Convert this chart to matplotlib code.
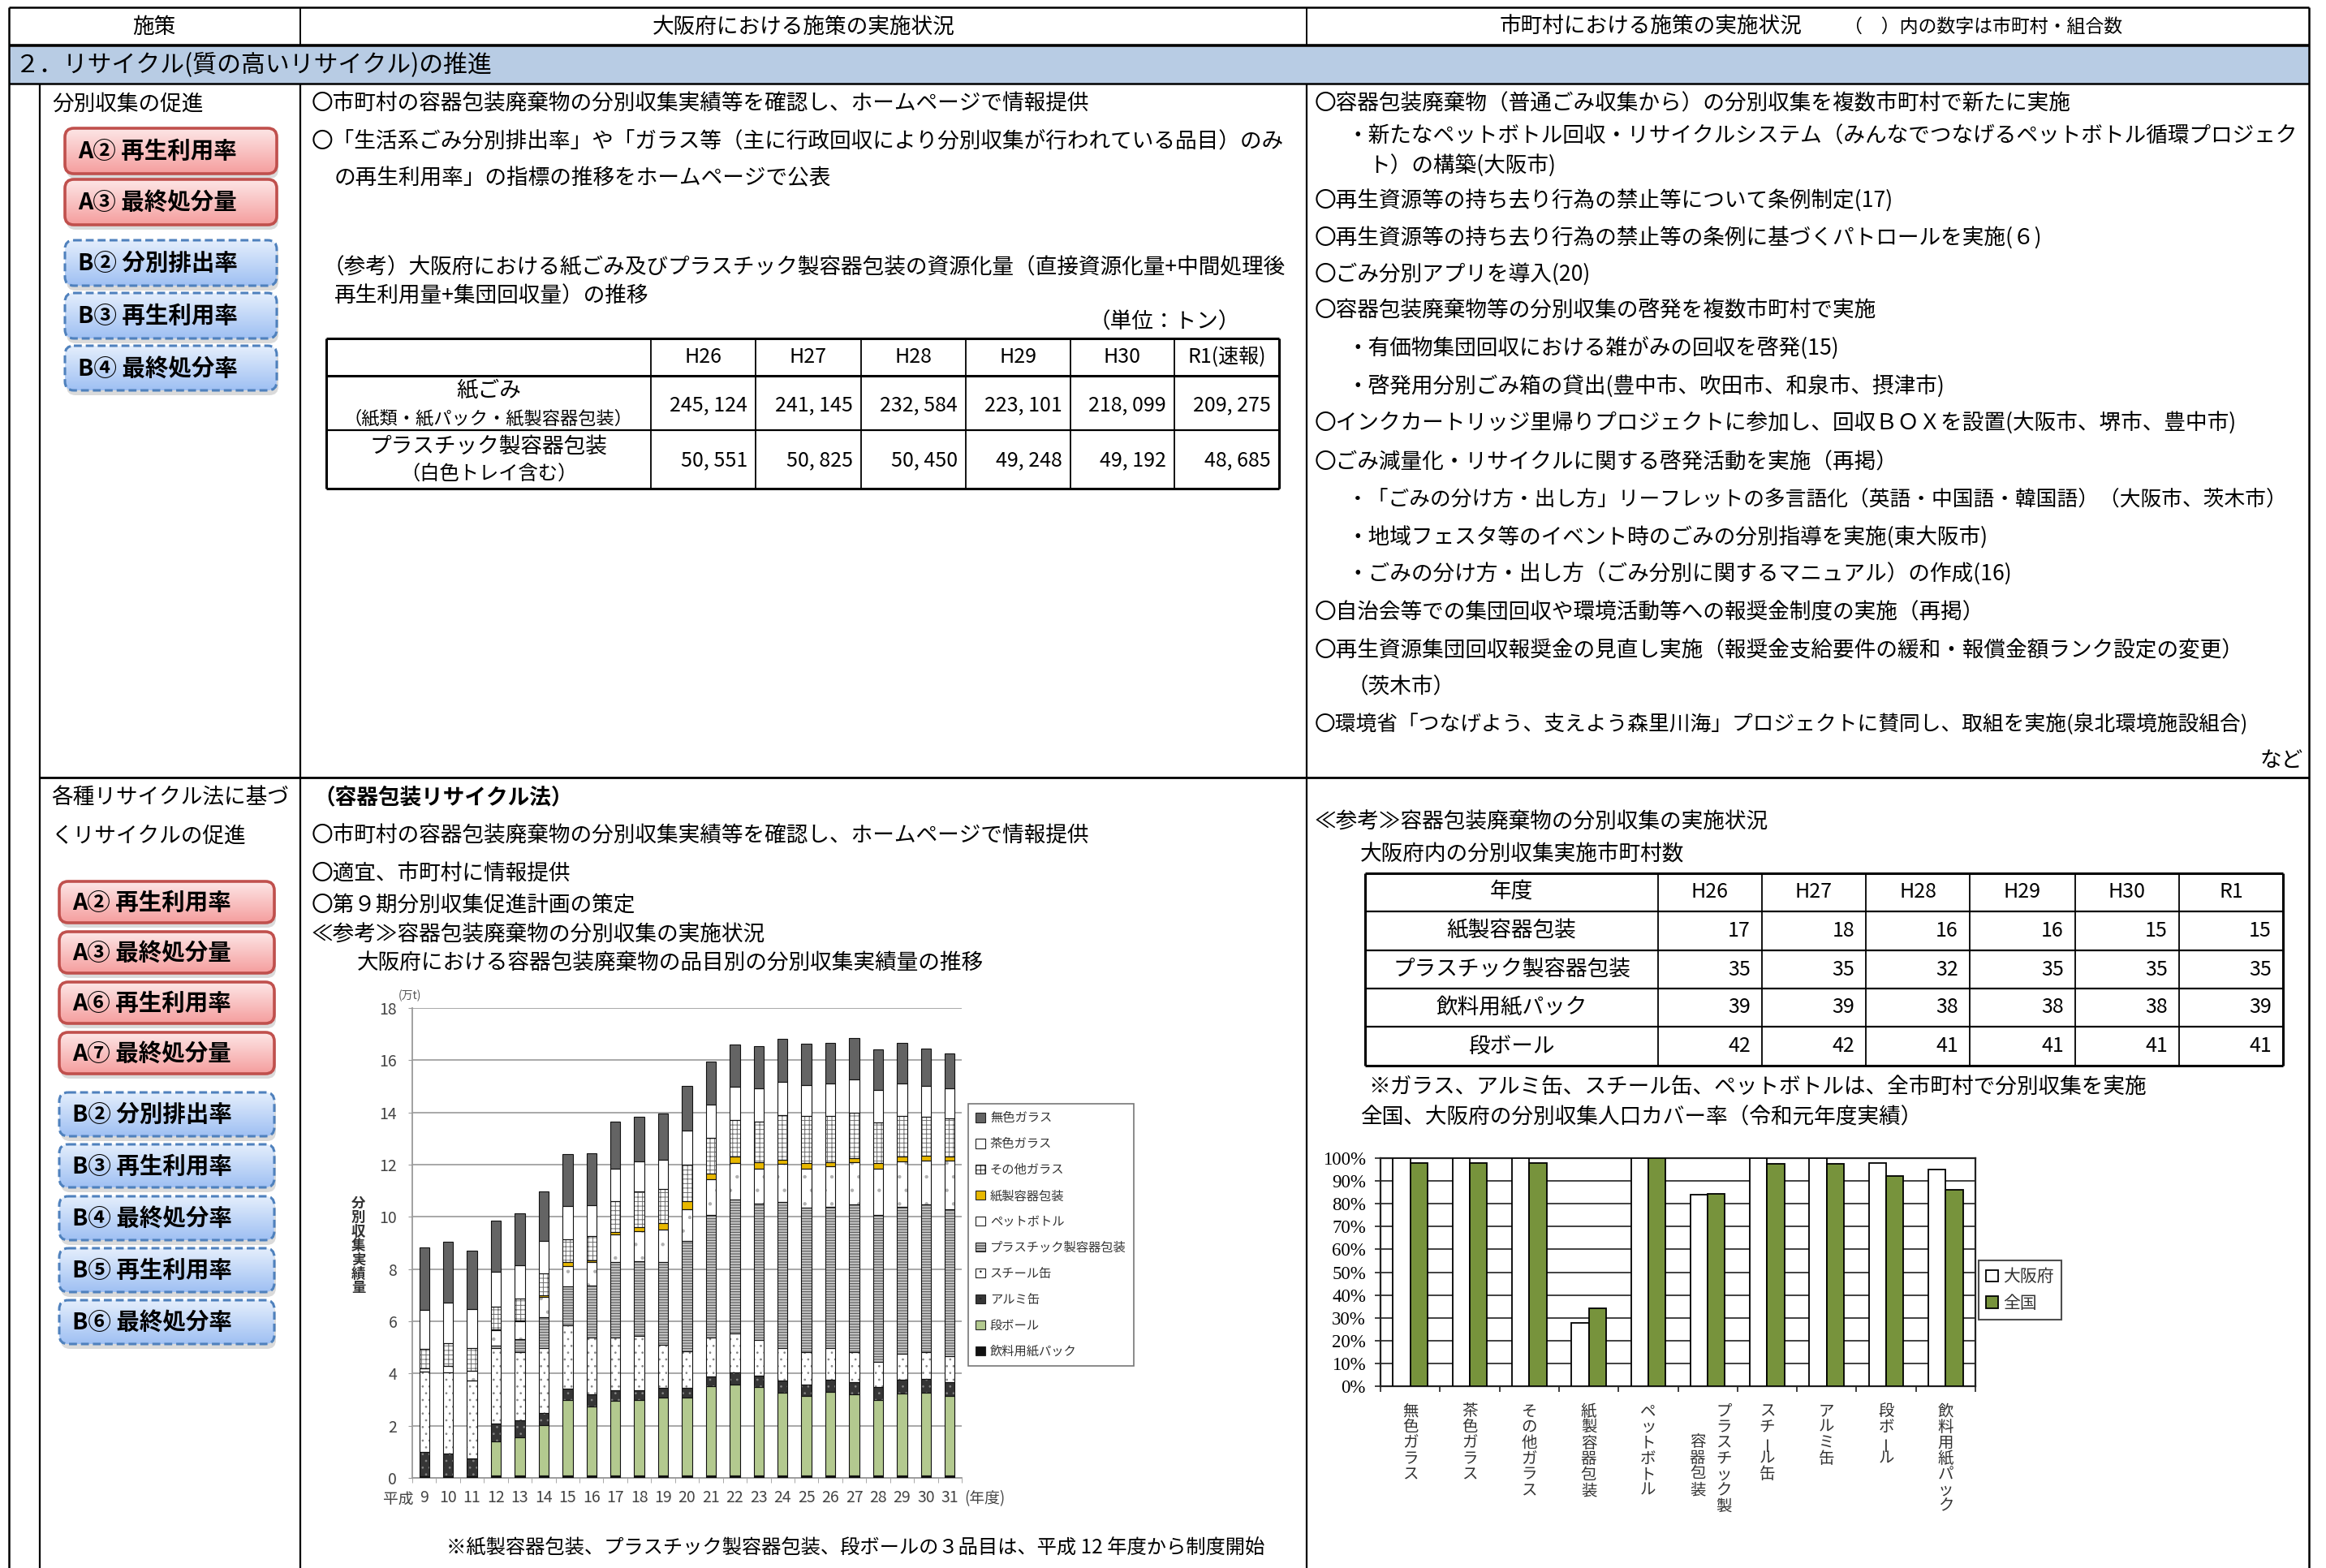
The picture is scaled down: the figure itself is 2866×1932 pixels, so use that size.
import numpy as np
import matplotlib
matplotlib.use('Agg')
import matplotlib.pyplot as plt
from matplotlib.patches import Rectangle, FancyBboxPatch, Patch
import matplotlib.transforms as mtransforms

plt.rcParams['font.family'] = ['Noto Sans CJK JP', 'DejaVu Sans']
plt.rcParams['hatch.linewidth'] = 0.7

# ---------------- data ----------------
stack_years = ['9', '10', '11', '12', '13', '14', '15', '16', '17', '18', '19', '20',
               '21', '22', '23', '24', '25', '26', '27', '28', '29', '30', '31']
paper_pack = [0.05, 0.05, 0.05] + [0.10] * 20
cardboard = [0, 0, 0, 1.30, 1.45, 1.92, 2.87, 2.64, 2.85, 2.87, 2.97, 2.97,
             3.42, 3.47, 3.38, 3.16, 3.03, 3.18, 3.11, 2.90, 3.14, 3.16, 3.03]
aluminum = [0.95, 0.88, 0.70, 0.67, 0.65, 0.46, 0.44, 0.46, 0.41, 0.39, 0.39, 0.39,
            0.38, 0.46, 0.45, 0.46, 0.46, 0.49, 0.46, 0.48, 0.52, 0.54, 0.54]
steel = [3.08, 3.10, 2.97, 2.89, 2.61, 2.48, 2.43, 2.18, 2.02, 2.07, 1.64, 1.40,
         1.48, 1.50, 1.34, 1.26, 1.22, 1.19, 1.14, 0.97, 1.00, 1.01, 0.98]
plastic = [0, 0, 0, 0.11, 0.52, 1.19, 1.49, 2.00, 2.88, 2.88, 3.16, 4.21,
           4.70, 5.12, 5.24, 5.60, 5.53, 5.43, 5.68, 5.63, 5.63, 5.66, 5.63]
pet_bottle = [0.12, 0.26, 0.38, 0.59, 0.67, 0.77, 0.77, 0.88, 1.07, 1.14, 1.24, 1.23,
              1.35, 1.42, 1.33, 1.45, 1.52, 1.56, 1.61, 1.76, 1.74, 1.68, 1.87]
paper_container = [0, 0, 0, 0.02, 0.03, 0.06, 0.18, 0.08, 0.09, 0.15, 0.25, 0.30,
                   0.22, 0.23, 0.26, 0.17, 0.19, 0.15, 0.15, 0.21, 0.17, 0.20, 0.15]
other_glass = [0.73, 0.88, 0.86, 0.89, 0.85, 0.86, 0.86, 0.91, 1.18, 1.36, 1.31, 1.40,
               1.39, 1.41, 1.56, 1.70, 1.80, 1.75, 1.75, 1.58, 1.57, 1.47, 1.46]
brown_glass = [1.52, 1.53, 1.52, 1.33, 1.28, 1.25, 1.27, 1.19, 1.26, 1.16, 1.14, 1.30,
               1.27, 1.29, 1.27, 1.27, 1.21, 1.26, 1.27, 1.22, 1.24, 1.19, 1.17]
clear_glass = [2.38, 2.34, 2.22, 1.97, 1.97, 1.87, 1.98, 2.00, 1.78, 1.70, 1.75, 1.73,
               1.63, 1.59, 1.62, 1.66, 1.58, 1.56, 1.58, 1.56, 1.56, 1.45, 1.33]

cover_categories = ['無色ガラス', '茶色ガラス', 'その他ガラス', '紙製容器包装', 'ペットボトル',
                    'プラスチック製\n容器包装', 'スチール缶', 'アルミ缶', '段ボール', '飲料用紙パック']
cover_osaka = [100, 100, 100, 27.8, 100, 84.0, 100, 100, 98.0, 94.9]
cover_national = [98.0, 98.0, 98.0, 34.1, 100, 84.4, 97.6, 97.6, 92.3, 86.1]

t1_years = ['H26', 'H27', 'H28', 'H29', 'H30', 'R1(速報)']
paper_waste = [245124, 241145, 232584, 223101, 218099, 209275]
plastic_waste = [50551, 50825, 50450, 49248, 49192, 48685]

t2_years = ['H26', 'H27', 'H28', 'H29', 'H30', 'R1']
t2_rows = ['紙製容器包装', 'プラスチック製容器包装', '飲料用紙パック', '段ボール']
t2_paper = [17, 18, 16, 16, 15, 15]
t2_plastic = [35, 35, 32, 35, 35, 35]
t2_pack = [39, 39, 38, 38, 38, 39]
t2_cardboard = [42, 42, 41, 41, 41, 41]

badges_row1 = [('A② 再生利用率', 'A'), ('A③ 最終処分量', 'A'),
               ('B② 分別排出率', 'B'), ('B③ 再生利用率', 'B'), ('B④ 最終処分率', 'B')]
badges_row2 = [('A② 再生利用率', 'A'), ('A③ 最終処分量', 'A'), ('A⑥ 再生利用率', 'A'),
               ('A⑦ 最終処分量', 'A'), ('B② 分別排出率', 'B'), ('B③ 再生利用率', 'B'),
               ('B④ 最終処分率', 'B'), ('B⑤ 再生利用率', 'B'), ('B⑥ 最終処分率', 'B')]

col3_lines = [
    (0, "〇容器包装廃棄物（普通ごみ収集から）の分別収集を複数市町村で新たに実施"),
    (1, "・新たなペットボトル回収・リサイクルシステム（みんなでつなげるペットボトル循環プロジェク"),
    (2, "ト）の構築(大阪市)"),
    (0, "〇再生資源等の持ち去り行為の禁止等について条例制定(17)"),
    (0, "〇再生資源等の持ち去り行為の禁止等の条例に基づくパトロールを実施(６)"),
    (0, "〇ごみ分別アプリを導入(20)"),
    (0, "〇容器包装廃棄物等の分別収集の啓発を複数市町村で実施"),
    (1, "・有価物集団回収における雑がみの回収を啓発(15)"),
    (1, "・啓発用分別ごみ箱の貸出(豊中市、吹田市、和泉市、摂津市)"),
    (0, "〇インクカートリッジ里帰りプロジェクトに参加し、回収ＢＯＸを設置(大阪市、堺市、豊中市)"),
    (0, "〇ごみ減量化・リサイクルに関する啓発活動を実施（再掲）"),
    (1, "・「ごみの分け方・出し方」リーフレットの多言語化（英語・中国語・韓国語）（大阪市、茨木市）"),
    (1, "・地域フェスタ等のイベント時のごみの分別指導を実施(東大阪市)"),
    (1, "・ごみの分け方・出し方（ごみ分別に関するマニュアル）の作成(16)"),
    (0, "〇自治会等での集団回収や環境活動等への報奨金制度の実施（再掲）"),
    (0, "〇再生資源集団回収報奨金の見直し実施（報奨金支給要件の緩和・報償金額ランク設定の変更）"),
    (1, "（茨木市）"),
    (0, "〇環境省「つなげよう、支えよう森里川海」プロジェクトに賛同し、取組を実施(泉北環境施設組合)"),
]
col3_y = [128, 168, 205, 247, 293, 338, 383, 430, 477, 522, 570, 617, 663, 708, 755, 802, 847, 893]

# ---------------- canvas ----------------
W, H = 2866, 1932
fig = plt.figure(figsize=(W / 100, H / 100), dpi=100)
ax0 = fig.add_axes([0, 0, 1, 1])
ax0.axis('off')

FS = 19.2


def hline(x0, x1, y, lw=1.6, color='black'):
    ax0.plot([x0, x1], [y, y], color=color, lw=lw, solid_capstyle='butt', zorder=6)


def vline(x, y0, y1, lw=1.6, color='black'):
    ax0.plot([x, x], [y0, y1], color=color, lw=lw, solid_capstyle='butt', zorder=6)


def txt(x, y, s, size=FS, ha='left', va='center', **kw):
    ax0.text(x, y, s, fontsize=size, ha=ha, va=va, zorder=7, **kw)


def badge(x0, y0, x1, y1, label, kind):
    r = 11
    bs = f"round,pad=0,rounding_size={r}"
    sh = FancyBboxPatch((x0 + 2, y0 + 6), x1 - x0, y1 - y0, boxstyle=bs,
                        fc='#bdbdbd', ec='none', alpha=0.55, zorder=2)
    ax0.add_patch(sh)
    if kind == 'A':
        top, bot, ec, ls, lw = '#fde6e6', '#f59e9e', '#c0504d', 'solid', 2.6
    else:
        top, bot, ec, ls, lw = '#e4eefc', '#9fc0f3', '#4f81bd', (0, (3.2, 1.6)), 2.2
    clip = FancyBboxPatch((x0, y0), x1 - x0, y1 - y0, boxstyle=bs, fc='none', ec='none', zorder=3)
    ax0.add_patch(clip)
    t = np.linspace(0, 1, 64).reshape(-1, 1, 1)
    c0 = np.array(matplotlib.colors.to_rgb(top)).reshape(1, 1, 3)
    c1 = np.array(matplotlib.colors.to_rgb(bot)).reshape(1, 1, 3)
    img = c0 * (1 - t) + c1 * t
    im = ax0.imshow(img, extent=[x0, x1, y1, y0], aspect='auto', zorder=3,
                    interpolation='bilinear')
    im.set_clip_path(clip)
    box = FancyBboxPatch((x0, y0), x1 - x0, y1 - y0, boxstyle=bs, fc='none', ec=ec,
                         lw=lw, ls=ls, zorder=4)
    ax0.add_patch(box)
    ax0.text(x0 + 16, (y0 + y1) / 2 + 1, label, fontsize=20.5, fontweight='bold',
             va='center', ha='left', zorder=5)


# header / frame
ax0.add_patch(Rectangle((11, 58), 2834, 45, fc='#b8cce4', ec='none', zorder=1))
hline(11, 2845, 9, lw=1.8)
hline(11, 2845, 55.5, lw=2.6)
hline(11, 2845, 103, lw=1.8)
vline(11, 9, 1932, lw=1.8)
vline(2845, 9, 1932, lw=1.8)
vline(370, 9, 56, lw=1.4)
vline(1610, 9, 56, lw=1.4)
vline(49, 103, 1932, lw=1.6)
vline(370, 103, 1932, lw=1.6)
vline(1610, 103, 1932, lw=1.6)
hline(49, 2845, 958, lw=2.0)

txt(190, 33, "施策", ha='center')
txt(990, 33, "大阪府における施策の実施状況", ha='center')
txt(1848, 33, "市町村における施策の実施状況")
txt(2272, 33, "（　）内の数字は市町村・組合数", size=16.5)
txt(18, 80, "２．リサイクル(質の高いリサイクル)の推進", size=21.5)

# column 1
txt(64, 128, "分別収集の促進")
row1_y = [(158, 214), (221, 277), (296, 352), (361, 417), (426, 481)]
for (lab, kind), (ya, yb) in zip(badges_row1, row1_y):
    badge(80, ya, 341, yb, lab, kind)

txt(63, 983, "各種リサイクル法に基づ")
txt(63, 1030, "くリサイクルの促進")
row2_y = [(1086, 1137), (1148, 1199), (1210, 1261), (1272, 1323), (1346, 1400),
          (1410, 1463), (1474, 1528), (1538, 1592), (1602, 1656)]
for (lab, kind), (ya, yb) in zip(badges_row2, row2_y):
    badge(73, ya, 338, yb, lab, kind)

# column 2, row 1
txt(384, 128, "〇市町村の容器包装廃棄物の分別収集実績等を確認し、ホームページで情報提供")
txt(384, 175, "〇「生活系ごみ分別排出率」や「ガラス等（主に行政回収により分別収集が行われている品目）のみ")
txt(412, 220, "の再生利用率」の指標の推移をホームページで公表")
txt(398, 330, "（参考）大阪府における紙ごみ及びプラスチック製容器包装の資源化量（直接資源化量+中間処理後")
txt(412, 365, "再生利用量+集団回収量）の推移")
txt(1528, 397, "（単位：トン）", ha='right')

t1_x = [402, 802, 931, 1061, 1190, 1319, 1447, 1576]
t1_y = [417, 463, 530, 602]
for i, y in enumerate(t1_y):
    hline(t1_x[0], t1_x[-1], y, lw=2.2 if i in (0, 1, 3) else 1.6)
for i, x in enumerate(t1_x):
    vline(x, t1_y[0], t1_y[-1], lw=2.2 if i in (0, 7) else 1.3)
for j, yr in enumerate(t1_years):
    txt((t1_x[j + 1] + t1_x[j + 2]) / 2, 440, yr, ha='center', size=18)
txt(602, 482, "紙ごみ", ha='center')
txt(602, 516, "（紙類・紙パック・紙製容器包装）", ha='center', size=16)
txt(602, 550, "プラスチック製容器包装", ha='center')
txt(602, 585, "（白色トレイ含む）", ha='center', size=17.5)
for j in range(6):
    txt(t1_x[j + 2] - 10, 499, f"{paper_waste[j]:,}".replace(",", ", "), ha='right', size=18)
    txt(t1_x[j + 2] - 10, 567, f"{plastic_waste[j]:,}".replace(",", ", "), ha='right', size=18)

# column 3, row 1
indent = {0: 1620, 1: 1660, 2: 1686}
for (lev, s), y in zip(col3_lines, col3_y):
    txt(indent[lev], y, s, size=18.5 if len(s) > 44 else FS)
txt(2838, 937, "など", ha='right')

# column 2, row 2
txt(386, 983, "（容器包装リサイクル法）", fontweight='bold')
txt(384, 1030, "〇市町村の容器包装廃棄物の分別収集実績等を確認し、ホームページで情報提供")
txt(384, 1077, "〇適宜、市町村に情報提供")
txt(384, 1115, "〇第９期分別収集促進計画の策定")
txt(384, 1152, "≪参考≫容器包装廃棄物の分別収集の実施状況")
txt(440, 1187, "大阪府における容器包装廃棄物の品目別の分別収集実績量の推移")
txt(550, 1907, "※紙製容器包装、プラスチック製容器包装、段ボールの３品目は、平成 12 年度から制度開始", size=17.5)

# column 3, row 2
txt(1620, 1013, "≪参考≫容器包装廃棄物の分別収集の実施状況")
txt(1676, 1053, "大阪府内の分別収集実施市町村数")
t2_x = [1682, 2043, 2171, 2299, 2427, 2557, 2685, 2813]
t2_y = [1076, 1123, 1171, 1218, 1265, 1313]
for i, y in enumerate(t2_y):
    hline(t2_x[0], t2_x[-1], y, lw=2.2 if i in (0, 5) else 1.6)
for i, x in enumerate(t2_x):
    vline(x, t2_y[0], t2_y[-1], lw=2.2 if i in (0, 7) else 1.3)
txt((t2_x[0] + t2_x[1]) / 2, 1099, "年度", ha='center')
for j, yr in enumerate(t2_years):
    txt((t2_x[j + 1] + t2_x[j + 2]) / 2, 1099, yr, ha='center', size=18)
t2_vals = [t2_paper, t2_plastic, t2_pack, t2_cardboard]
for r, (lab, vals) in enumerate(zip(t2_rows, t2_vals)):
    yc = (t2_y[r + 1] + t2_y[r + 2]) / 2
    txt((t2_x[0] + t2_x[1]) / 2, yc, lab, ha='center')
    for j, v in enumerate(vals):
        txt(t2_x[j + 2] - 14, yc, str(v), ha='right', size=18)
txt(1686, 1340, "※ガラス、アルミ缶、スチール缶、ペットボトルは、全市町村で分別収集を実施")
txt(1676, 1377, "全国、大阪府の分別収集人口カバー率（令和元年度実績）")

ax0.set_xlim(0, W)
ax0.set_ylim(H, 0)


def rect(x0, y0, x1, y1):
    return [x0 / W, 1 - y1 / H, (x1 - x0) / W, (y1 - y0) / H]


# ---------------- stacked bar chart ----------------
ax1 = fig.add_axes(rect(508, 1242, 1185, 1821))
series = [
    ('飲料用紙パック', paper_pack, '#111111', None, '#111111'),
    ('段ボール', cardboard, '#b3c98f', None, '#b3c98f'),
    ('アルミ缶', aluminum, '#363636', '..', '#858585'),
    ('スチール缶', steel, '#ffffff', '..', '#858585'),
    ('プラスチック製容器包装', plastic, '#c4c4c4', '-----', '#4a4a4a'),
    ('ペットボトル', pet_bottle, '#ffffff', '.', '#b0b0b0'),
    ('紙製容器包装', paper_container, '#e8b800', None, '#e8b800'),
    ('その他ガラス', other_glass, '#ffffff', '+++', '#6e6e6e'),
    ('茶色ガラス', brown_glass, '#ffffff', None, '#ffffff'),
    ('無色ガラス', clear_glass, '#646464', None, '#646464'),
]
xs = np.arange(len(stack_years))
bw = 0.42
bottom = np.zeros(len(xs))
handles = []
for name, vals, fc, hatch, hc in series:
    v = np.array(vals, dtype=float)
    ax1.bar(xs, v, bw, bottom=bottom, color=fc, hatch=hatch, edgecolor=hc, linewidth=0, zorder=3)
    ax1.bar(xs, v, bw, bottom=bottom, fill=False, edgecolor='#111111', linewidth=0.8, zorder=4)
    bottom = bottom + v
    handles.append(Patch(facecolor=fc, hatch=hatch, edgecolor='#222222', linewidth=0.8, label=name))

ax1.set_xlim(-0.5, len(xs) - 0.5)
ax1.set_ylim(0, 18)
ax1.set_yticks(np.arange(0, 19, 2))
ax1.yaxis.grid(True, color='#a8a8a8', lw=1.4, zorder=0)
ax1.set_axisbelow(True)
for sp in ('top', 'right'):
    ax1.spines[sp].set_visible(False)
ax1.spines['left'].set_color('#9a9a9a')
ax1.spines['bottom'].set_color('#9a9a9a')
ax1.spines['left'].set_linewidth(1.3)
ax1.spines['bottom'].set_linewidth(1.3)
ax1.tick_params(axis='y', colors='#9a9a9a', labelcolor='#444444', labelsize=14, length=3.5, pad=10)
ax1.set_xticks(xs)
ax1.set_xticklabels(stack_years)
ax1.set_xticks(np.arange(-0.5, len(xs), 1), minor=True)
ax1.tick_params(axis='x', which='major', length=0, labelsize=14, labelcolor='#444444', pad=10)
ax1.tick_params(axis='x', which='minor', length=4, color='#9a9a9a')
btrans = mtransforms.blended_transform_factory(ax1.transData, ax1.transAxes)
ax1.text(-0.45, -0.045, '平成', transform=btrans, ha='right', va='center', fontsize=13.5, color='#444444')
ax1.text(22.6, -0.045, '(年度)', transform=btrans, ha='left', va='center', fontsize=13.5, color='#444444')
ax1.text(-0.004, 1.026, '(万t)', transform=ax1.transAxes, ha='center', va='center', fontsize=10, color='#555555')
ax1.text(-0.098, 0.494, '\n'.join('分別収集実績量'), transform=ax1.transAxes, ha='center', va='center',
         fontsize=12.5, fontweight='bold', color='#333333', linespacing=0.95)
leg = ax1.legend(handles[::-1], [h.get_label() for h in handles[::-1]], loc='upper left',
                 bbox_to_anchor=(1.012, 0.796), borderaxespad=0, fontsize=11, frameon=True,
                 fancybox=False, edgecolor='#555555', handlelength=0.75, handleheight=0.75,
                 handletextpad=0.4, labelspacing=0.98, borderpad=0.6)
for t in leg.get_texts():
    t.set_color('#333333')
leg.get_frame().set_linewidth(1.2)

# ---------------- coverage chart ----------------
ax2 = fig.add_axes(rect(1701, 1427, 2434, 1708))
xc = np.arange(len(cover_categories))
cw = 0.29
ax2.bar(xc - cw / 2, cover_osaka, cw, color='white', edgecolor='black', linewidth=1.3, zorder=3, label='大阪府')
ax2.bar(xc + cw / 2, cover_national, cw, color='#77933c', edgecolor='black', linewidth=1.3, zorder=3, label='全国')
ax2.set_xlim(-0.5, len(xc) - 0.5)
ax2.set_ylim(0, 100)
ax2.set_yticks(np.arange(0, 101, 10))
ax2.set_yticklabels([f"{v}%" for v in range(0, 101, 10)], fontfamily='Liberation Serif', fontsize=16.5)
ax2.yaxis.grid(True, color='#333333', lw=1.3, zorder=0)
ax2.set_axisbelow(True)
for sp in ax2.spines.values():
    sp.set_linewidth(1.6)
    sp.set_color('#222222')
ax2.set_xticks(xc)
ax2.set_xticklabels([])
ax2.set_xticks(np.arange(-0.5, len(xc), 1), minor=True)
ax2.tick_params(axis='x', which='major', length=0)
ax2.tick_params(axis='x', which='minor', length=5, width=1.3, color='#333333')
ax2.tick_params(axis='y', length=5, width=1.3, color='#333333', pad=8)
ctrans = mtransforms.blended_transform_factory(ax2.transData, ax2.transAxes)
ah = 281.0
for i, lab in enumerate(cover_categories):
    cols = lab.split('\n')
    if len(cols) == 1:
        offs = [(0.0, 0)]
    else:
        offs = [(0.27, 0), (-0.17, 38)]
    for col, (dx, dy) in zip(cols, offs):
        for k, ch in enumerate(col):
            ypx = 31 + dy + k * 19.5
            ax2.text(i + dx, -ypx / ah, ch, transform=ctrans, ha='center', va='center',
                     fontsize=14, color='#333333', rotation=90 if ch == 'ー' else 0)
leg2 = ax2.legend(loc='upper left', bbox_to_anchor=(1.005, 0.552), borderaxespad=0,
                  fontsize=15, frameon=True, fancybox=False, edgecolor='#222222',
                  handlelength=0.7, handleheight=0.7, handletextpad=0.3, labelspacing=0.5,
                  borderpad=0.45)
for t in leg2.get_texts():
    t.set_color('#333333')
leg2.get_frame().set_linewidth(1.5)

fig.savefig('out.png', dpi=100, facecolor='white')
